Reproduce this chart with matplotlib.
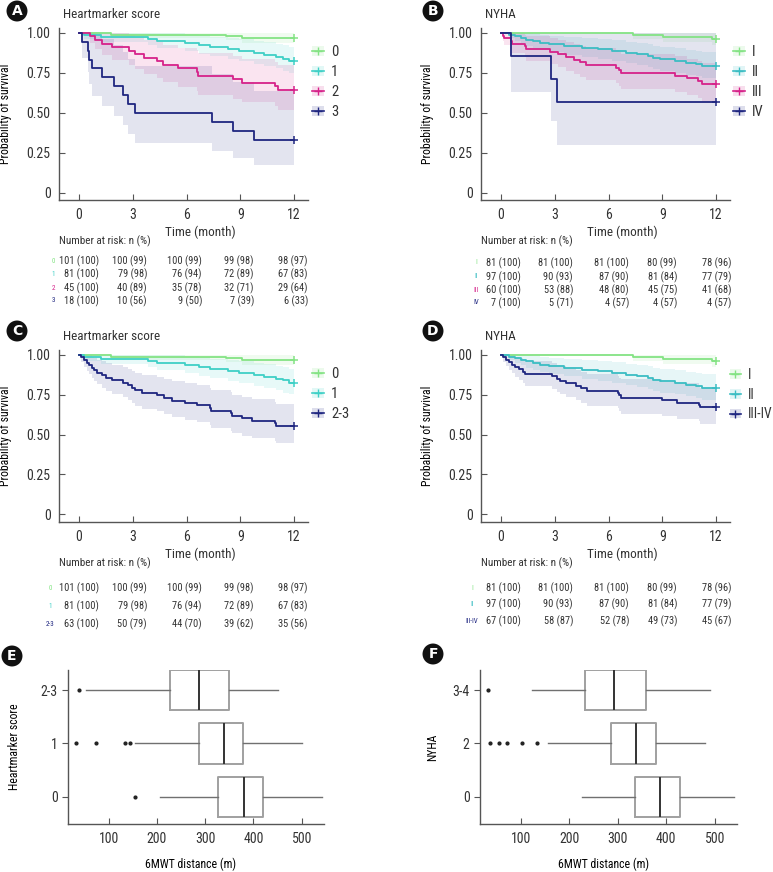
import matplotlib
matplotlib.use('Agg')
import matplotlib.pyplot as plt
from matplotlib.lines import Line2D
from matplotlib.patches import Patch
from matplotlib import font_manager

available = {f.name for f in font_manager.fontManager.ttflist}
font_name = 'DejaVu Sans'
for cand in ['Roboto Condensed', 'Liberation Sans Narrow', 'PT Sans Narrow', 'Archivo Narrow', 'Roboto']:
    if cand in available:
        font_name = cand
        break
plt.rcParams['font.family'] = [font_name, 'DejaVu Sans']
plt.rcParams['text.color'] = '#333333'

W, H = 773, 872
months = [0, 3, 6, 9, 12]
FOLLOW_UP = 12

# colours
c_green = '#84e384'
c_cyan = '#3fd0c6'
c_teal = '#3bbdc3'
c_mag = '#d6228a'
c_navy = '#1f2680'

# ---- heartmarker score curves (time, survival, lower CI, upper CI)
hm0_t = [0, 1.8, 8.2, 9.1]
hm0_s = [1, .990, .980, .970]
hm0_lo = [1, .971, .953, .937]
hm0_hi = [1, 1, 1, 1]

hm1_t = [0, 0.3, 1.2, 3.85, 4.35, 5.9, 6.7, 7.3, 8.3, 8.95, 9.75, 10.3, 11.0, 11.4, 11.7]
hm1_s = [1, .988, .975, .963, .951, .938, .926, .914, .901, .889, .877, .864, .852, .840, .827]
hm1_lo = [1, .964, .942, .922, .905, .887, .870, .854, .838, .823, .808, .792, .778, .764, .752]
hm1_hi = [1, 1, 1, 1, .999, .992, .985, .977, .969, .960, .952, .942, .933, .924, .914]

hm2_t = [0, 0.6, 0.9, 1.27, 1.82, 2.8, 3.13, 3.6, 4.33, 4.7, 5.55, 6.57, 6.65, 8.58, 9.08, 10.94, 11.1]
hm2_s = [1, .978, .956, .933, .911, .889, .867, .844, .822, .800, .778, .756, .733, .711, .689, .667, .644]
hm2_lo = [1, .936, .897, .863, .832, .802, .773, .745, .718, .691, .665, .640, .615, .590, .566, .543, .519]
hm2_hi = [1, 1, 1, 1, .998, .986, .972, .957, .941, .926, .909, .893, .874, .857, .838, .820, .800]

hm3_t = [0, 0.15, 0.5, 0.55, 0.7, 1.3, 1.95, 2.45, 2.75, 3.15, 7.4, 8.6, 9.75]
hm3_s = [1, .944, .889, .833, .778, .722, .667, .611, .556, .500, .444, .389, .333]
hm3_lo = [1, .844, .755, .678, .608, .542, .481, .423, .368, .315, .265, .218, .173]
hm3_hi = [1, 1, 1, 1, .996, .962, .925, .883, .840, .794, .745, .694, .640]

hm23_t = [0, 0.1, 0.3, 0.45, 0.55, 0.7, 0.85, 1.0, 1.27, 1.5, 1.85, 2.45, 2.75, 2.95,
          3.15, 3.5, 4.35, 4.75, 5.2, 5.9, 6.6, 7.3, 7.35, 8.5, 8.55, 9.1, 9.65, 10.95, 11.0]
hm23_s = [1, .984, .968, .952, .937, .921, .905, .889, .873, .857, .841, .825, .810, .794,
          .778, .762, .746, .730, .714, .698, .683, .667, .651, .635, .619, .603, .587, .571, .556]
hm23_lo = [1, .953, .925, .901, .879, .857, .835, .815, .794, .775, .755, .737, .718, .700,
           .682, .664, .646, .628, .610, .593, .577, .560, .543, .526, .510, .493, .477, .461, .445]
hm23_hi = [1, 1, 1, 1, .999, .990, .980, .970, .959, .948, .936, .924, .913, .900,
           .888, .875, .862, .848, .835, .821, .809, .794, .780, .766, .751, .737, .722, .707, .693]

# ---- NYHA curves
ny1_t = [0, 7.35, 9.05, 11.75]
ny1_s = [1, .988, .975, .963]
ny1_lo = [1, .964, .942, .922]
ny1_hi = [1, 1, 1, 1]

ny2_t = [0, 0.45, 0.8, 1.1, 1.4, 1.8, 2.2, 2.7, 3.5, 4.5, 5.4, 6.2, 7.0, 7.6, 8.2, 8.5, 8.9,
         9.7, 10.3, 10.9, 11.2]
ny2_s = [1, .990, .979, .969, .959, .948, .938, .928, .918, .907, .897, .887, .876, .866, .856,
         .845, .835, .825, .814, .804, .794]
ny2_lo = [1, .970, .951, .935, .919, .905, .891, .878, .865, .851, .839, .826, .813, .801, .789,
          .776, .764, .752, .740, .728, .717]
ny2_hi = [1, 1, 1, 1, .999, .994, .988, .981, .974, .967, .960, .953, .944, .937, .929,
          .920, .912, .904, .895, .888, .879]

ny3_t = [0, 0.1, 0.15, 0.55, 0.6, 1.35, 1.4, 2.75, 3.2, 3.6, 4.05, 4.4, 4.75, 6.4, 6.6, 6.7,
         9.7, 10.4, 11.0, 11.2]
ny3_s = [1, .983, .967, .950, .933, .917, .900, .883, .867, .850, .833, .817, .800, .783, .767,
         .750, .733, .717, .700, .683]
ny3_lo = [1, .951, .922, .897, .872, .850, .827, .806, .785, .764, .744, .724, .705, .685, .667,
          .648, .629, .612, .593, .575]
ny3_hi = [1, 1, 1, 1, .998, .989, .979, .968, .957, .945, .933, .921, .908, .894, .882,
          .868, .854, .840, .826, .811]

ny4_t = [0, 0.55, 2.77, 3.14]
ny4_s = [1, .857, .714, .571]
ny4_lo = [1, .634, .447, .301]
ny4_hi = [1, 1, 1, 1]

ny34_t = [0, 0.1, 0.3, 0.45, 0.6, 0.8, 1.0, 1.2, 1.35, 2.85, 3.1, 3.3, 3.65, 4.2, 4.45, 4.8,
          6.55, 6.6, 6.7, 9.0, 9.8, 11.05, 11.1]
ny34_s = [1, .985, .970, .955, .940, .925, .910, .896, .881, .866, .851, .836, .821, .806, .791,
          .776, .761, .746, .731, .716, .701, .687, .672]
ny34_lo = [1, .956, .930, .906, .885, .864, .844, .826, .807, .788, .770, .752, .734, .716, .699,
           .682, .665, .649, .631, .615, .599, .583, .568]
ny34_hi = [1, 1, 1, 1, .998, .990, .981, .972, .962, .952, .940, .930, .918, .907, .895,
           .883, .871, .858, .846, .833, .821, .809, .794]

# ---- number at risk tables
risk_A = [['101 (100)', '100 (99)', '100 (99)', '99 (98)', '98 (97)'],
          ['81 (100)', '79 (98)', '76 (94)', '72 (89)', '67 (83)'],
          ['45 (100)', '40 (89)', '35 (78)', '32 (71)', '29 (64)'],
          ['18 (100)', '10 (56)', '9 (50)', '7 (39)', '6 (33)']]
risk_B = [['81 (100)', '81 (100)', '81 (100)', '80 (99)', '78 (96)'],
          ['97 (100)', '90 (93)', '87 (90)', '81 (84)', '77 (79)'],
          ['60 (100)', '53 (88)', '48 (80)', '45 (75)', '41 (68)'],
          ['7 (100)', '5 (71)', '4 (57)', '4 (57)', '4 (57)']]
risk_C = [['101 (100)', '100 (99)', '100 (99)', '99 (98)', '98 (97)'],
          ['81 (100)', '79 (98)', '76 (94)', '72 (89)', '67 (83)'],
          ['63 (100)', '50 (79)', '44 (70)', '39 (62)', '35 (56)']]
risk_D = [['81 (100)', '81 (100)', '81 (100)', '80 (99)', '78 (96)'],
          ['97 (100)', '90 (93)', '87 (90)', '81 (84)', '77 (79)'],
          ['67 (100)', '58 (87)', '52 (78)', '49 (73)', '45 (67)']]

# ---- 6MWT boxplots
e_labels = ['0', '1', '2-3']
e_q1 = [327, 287, 227]
e_med = [380, 338, 287]
e_q3 = [420, 379, 349]
e_lo = [207, 155, 54]
e_hi = [541, 500, 450]
e_fliers = [[155], [33, 74, 134, 145], [39]]

f_labels = ['0', '2', '3-4']
f_q1 = [336, 287, 233]
f_med = [388, 337, 292]
f_q3 = [429, 379, 358]
f_lo = [226, 156, 124]
f_hi = [540, 479, 490]
f_fliers = [[], [37, 55, 72, 103, 134], [32]]


def fx(px):
    return px / W


def fy(py):
    return 1 - py / H


def rect(l, t, r, b):
    return [l / W, 1 - b / H, (r - l) / W, (b - t) / H]


def style(ax):
    for s in ['top', 'right']:
        ax.spines[s].set_visible(False)
    for s in ['left', 'bottom']:
        ax.spines[s].set_color('#555555')
        ax.spines[s].set_linewidth(1.0)
    ax.tick_params(direction='in', length=4, color='#555555', labelsize=10,
                   labelcolor='#333333')


def km(ax, t, s, lo, hi, c):
    tt = t + [FOLLOW_UP]
    ax.fill_between(tt, lo + [lo[-1]], hi + [hi[-1]], step='post', color=c,
                    alpha=0.12, lw=0)
    ax.step(tt, s + [s[-1]], where='post', color=c, lw=1.3)
    ax.plot([FOLLOW_UP], [s[-1]], '+', color=c, ms=6, mew=1.1)


def km_axes(box, curves, labels, colors, title, leg_xy, tab_x, risk, rows_y, lab_x, ylab_x,
            leg_size=10.5):
    ax = fig.add_axes(rect(*box))
    for (t, s, lo, hi), c in zip(curves, colors):
        km(ax, t, s, lo, hi, c)
    top = box[1]
    ax.set_xlim(-1.116, 12.78)
    ax.set_ylim(-0.044 if top < 100 else -0.048, 1.031)
    ax.set_xticks(months)
    ax.set_yticks([0, 0.25, 0.5, 0.75, 1.0])
    ax.set_yticklabels(['0', '0.25', '0.50', '0.75', '1.00'])
    style(ax)
    ax.tick_params(axis='x', pad=6)
    ax.tick_params(axis='y', pad=6)
    ax.set_ylabel('Probability of survival', fontsize=8.5)
    ax.yaxis.set_label_coords(ylab_x, 0.5)
    fig.text(fx(box[0] + 4), fy(top - 13), title, fontsize=9.5, va='center')
    handles = [(Patch(fc=c, alpha=0.15, ec='none'),
                Line2D([], [], color=c, marker='+', ms=6, lw=1.2)) for c in colors]
    fig.legend(handles, labels, loc='upper left', bbox_to_anchor=(fx(leg_xy[0]), fy(leg_xy[1])),
               frameon=False, fontsize=leg_size, handlelength=0.8, handletextpad=0.5,
               labelspacing=0.42, borderpad=0, borderaxespad=0)
    # time label and risk table
    b = box[3]
    fig.text(fx(box[0] + 141), fy(b + 32), 'Time (month)',
             fontsize=9.5, ha='center', va='center')
    fig.text(fx(box[0]), fy(b + 41), 'Number at risk: n (%)', fontsize=8, va='center')
    for row, y, lab, c in zip(risk, rows_y, labels, colors):
        fig.text(fx(lab_x), fy(y), lab, color=c, fontsize=5, ha='center', va='center')
        for txt, x in zip(row, tab_x):
            fig.text(fx(x), fy(y), txt, fontsize=7.5, ha='right', va='center')
    return ax


def box_axes(box, labels, q1, med, q3, lo, hi, fliers, ylabel, ylab_x):
    ax = fig.add_axes(rect(*box))
    stats = [dict(q1=a, med=m, q3=b, whislo=l, whishi=h, fliers=f, label=n)
             for a, m, b, l, h, f, n in zip(q1, med, q3, lo, hi, fliers, labels)]
    ax.bxp(stats, positions=[0, 1, 2], widths=0.75, orientation='horizontal', showcaps=False,
           boxprops=dict(color='#a0a0a0', lw=1.4),
           medianprops=dict(color='#333333', lw=1.4),
           whiskerprops=dict(color='#707070', lw=1.0),
           flierprops=dict(marker='o', ms=2.0, mfc='#222222', mec='#222222'))
    ax.set_xlim(16, 546)
    ax.set_ylim(-0.505, 2.374)
    ax.set_xticks([100, 200, 300, 400, 500])
    style(ax)
    ax.tick_params(axis='y', direction='out', length=4)
    ax.tick_params(axis='x', pad=6)
    ax.set_ylabel(ylabel, fontsize=8.5)
    ax.yaxis.set_label_coords(ylab_x, 0.5)
    ax.set_xlabel('6MWT distance (m)', fontsize=8.5)
    ax.xaxis.set_label_coords(0.48, -0.22)
    return ax


fig = plt.figure(figsize=(W / 100, H / 100), dpi=100)

tab_left = [99, 147, 202, 254, 308]
tab_right = [521, 573, 629, 677, 731]

km_axes((59, 28, 308, 200),
        [(hm0_t, hm0_s, hm0_lo, hm0_hi), (hm1_t, hm1_s, hm1_lo, hm1_hi),
         (hm2_t, hm2_s, hm2_lo, hm2_hi), (hm3_t, hm3_s, hm3_lo, hm3_hi)],
        ['0', '1', '2', '3'], [c_green, c_cyan, c_mag, c_navy], 'Heartmarker score',
        (312, 45), tab_left, risk_A, [261, 274, 288, 301], 53, -0.19)

km_axes((481, 28, 730, 200),
        [(ny1_t, ny1_s, ny1_lo, ny1_hi), (ny2_t, ny2_s, ny2_lo, ny2_hi),
         (ny3_t, ny3_s, ny3_lo, ny3_hi), (ny4_t, ny4_s, ny4_lo, ny4_hi)],
        ['I', 'II', 'III', 'IV'], [c_green, c_teal, c_mag, c_navy], 'NYHA',
        (733, 45), tab_right, risk_B, [263, 277, 290, 303], 476, -0.19)

km_axes((59, 350, 308, 522),
        [(hm0_t, hm0_s, hm0_lo, hm0_hi), (hm1_t, hm1_s, hm1_lo, hm1_hi),
         (hm23_t, hm23_s, hm23_lo, hm23_hi)],
        ['0', '1', '2-3'], [c_green, c_cyan, c_navy], 'Heartmarker score',
        (312, 367), tab_left, risk_C, [588, 606, 624], 50, -0.19)

km_axes((481, 350, 730, 522),
        [(ny1_t, ny1_s, ny1_lo, ny1_hi), (ny2_t, ny2_s, ny2_lo, ny2_hi),
         (ny34_t, ny34_s, ny34_lo, ny34_hi)],
        ['I', 'II', 'III-IV'], [c_green, c_teal, c_navy], 'NYHA',
        (730, 368), tab_right, risk_D, [588, 604, 621], 472, -0.19, leg_size=9.8)

box_axes((68, 670, 324, 824), e_labels, e_q1, e_med, e_q3, e_lo, e_hi, e_fliers,
         'Heartmarker score', -0.185)
box_axes((480, 670, 737, 824), f_labels, f_q1, f_med, f_q3, f_lo, f_hi, f_fliers,
         'NYHA', -0.16)

# panel letters
for letter, x, y in [('A', 17, 11), ('B', 433, 11), ('C', 17, 331), ('D', 433, 331),
                     ('E', 12, 656), ('F', 433, 654)]:
    fig.text(fx(x), fy(y), letter, color='white', fontsize=10, weight='bold',
             ha='center', va='center', family='DejaVu Sans',
             bbox=dict(boxstyle='circle,pad=0.25', fc='#111111', ec='none'))

fig.savefig('out.png', dpi=100)
